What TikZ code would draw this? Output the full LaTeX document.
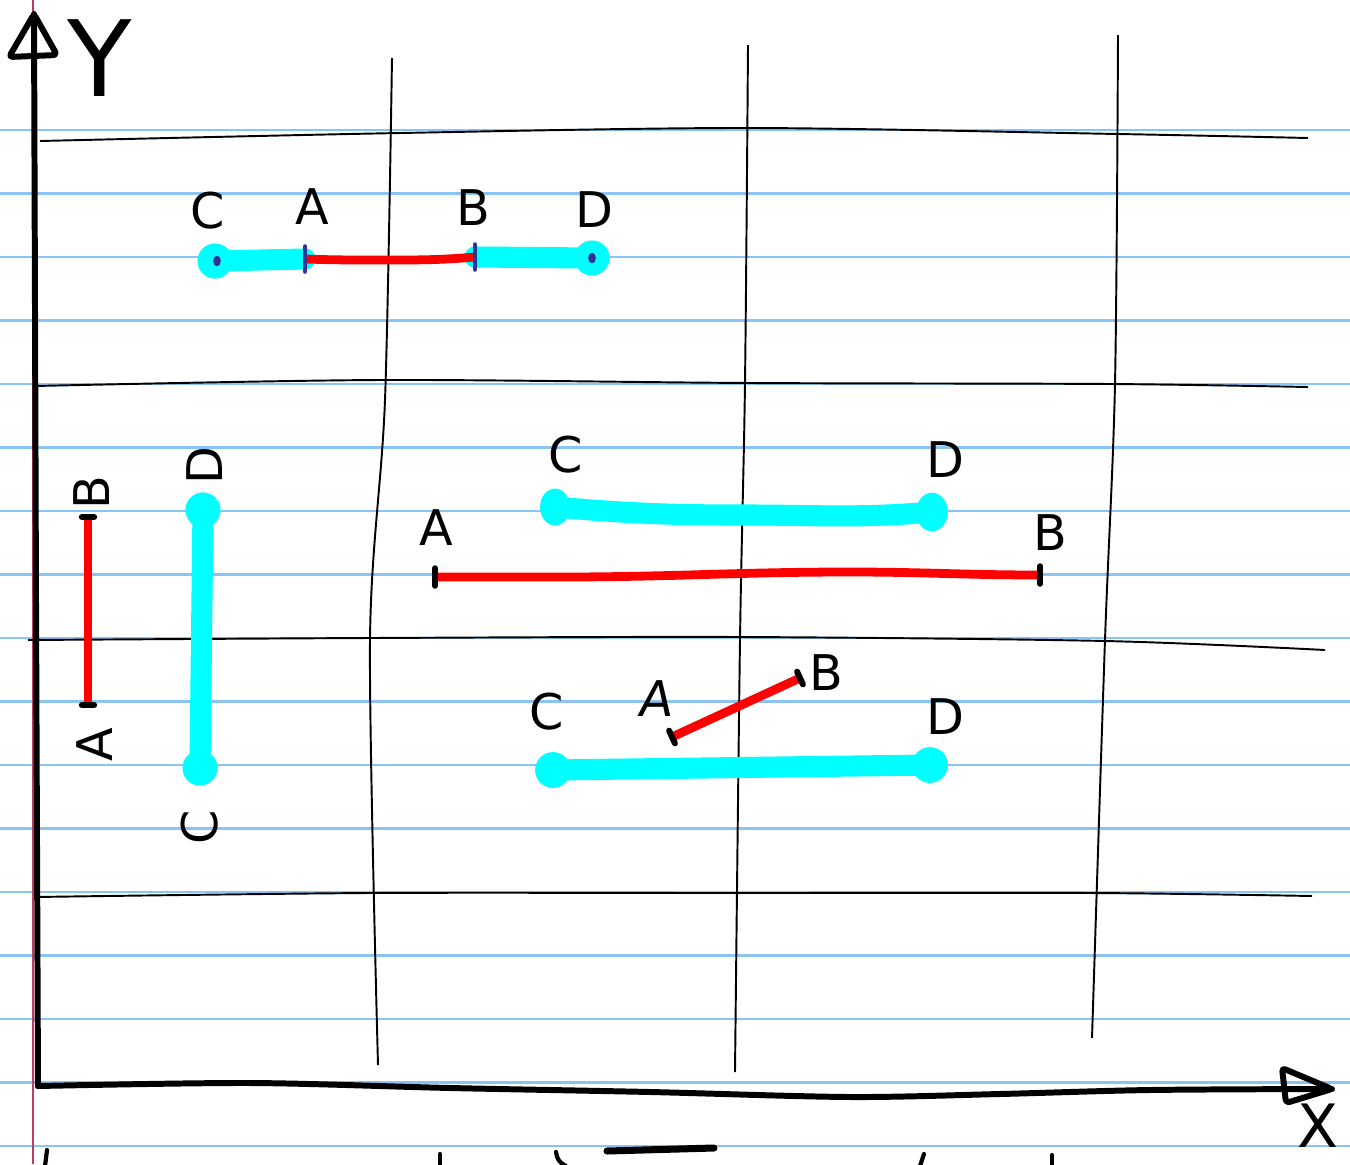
\documentclass[tikz,border=0pt]{standalone}
\usepackage{fontspec}
\setmainfont{DejaVu Sans}
\usetikzlibrary{calc}
\definecolor{ruleblue}{RGB}{140,195,245}
\definecolor{marginred}{RGB}{190,60,100}
\definecolor{cyanseg}{RGB}{0,255,255}
\definecolor{redseg}{RGB}{255,0,0}
\definecolor{tickblue}{RGB}{50,50,150}
\tikzset{
  rule/.style={ruleblue, line width=1.3pt},
  gridline/.style={black, line width=1.1pt},
  axisline/.style={black, line width=3.4pt, line cap=round, line join=round},
  cyanbar/.style={cyanseg, line width=12pt, line cap=round},
  redbar/.style={redseg, line width=5pt},
  endtick/.style={black, line width=3.4pt, line cap=round},
  bluetick/.style={tickblue, line width=2.8pt, line cap=round},
  lbl/.style={font=\fontsize{28}{31}\selectfont, inner sep=0pt},
  rlbl/.style={lbl, rotate=90},
  scrawl/.style={black, line width=2.4pt, line cap=round},
}
\begin{document}
\begin{tikzpicture}[x=0.02cm, y=-0.02cm]
\useasboundingbox (0,0) rectangle (1350,1164);
\fill[white] (0,0) rectangle (1350,1164);
% ruled paper lines
\foreach \k in {0,...,16} {
  \draw[rule] (0,{130+63.5*\k}) -- (1350,{130+63.5*\k});
}
\draw[marginred, line width=0.6pt] (33,0) -- (33,1164);
% hand-drawn grid
\draw[gridline] plot[smooth] coordinates {(40,141) (400,133) (750,128) (1118,134) (1308,138)};
\draw[gridline] plot[smooth] coordinates {(35,386) (380,380) (750,383) (1110,384) (1308,387)};
\draw[gridline] plot[smooth] coordinates {(28,640) (370,638) (740,637) (1105,641) (1325,650)};
\draw[gridline] plot[smooth] coordinates {(35,897) (370,893) (735,893) (1092,893) (1312,896)};
\draw[gridline] plot[smooth] coordinates {(392,58) (385,400) (370,640) (378,1065)};
\draw[gridline] plot[smooth] coordinates {(748,45) (745,383) (740,640) (735,1072)};
\draw[gridline] plot[smooth] coordinates {(1118,35) (1115,384) (1105,640) (1092,1038)};
% axes
\coordinate (origin) at (38,1086);
\coordinate (ytip) at (34,14);
\coordinate (xtip) at (1332,1089);
\draw[axisline] (origin) -- (36,600) -- (ytip);
\draw[axisline] plot[smooth] coordinates {(38,1086) (250,1083) (450,1088) (650,1092) (850,1097) (1000,1094) (1150,1090) (1332,1089)};
\draw[axisline, rounded corners=2pt] (ytip) -- (9,57) -- (57,55) -- cycle;
\draw[axisline, rounded corners=2pt] (xtip) -- (1282,1068) -- (1286,1103) -- cycle;
\node[font=\fontsize{60}{64}\selectfont, inner sep=0pt] (ylabel) at (100,58) {Y};
\node[font=\fontsize{34}{38}\selectfont, inner sep=0pt] (xlabel) at (1318,1126) {X};
% stray marks of the next line
\draw[scrawl] (47,1150) -- (45,1166);
\draw[scrawl] (440,1154) -- (440,1166);
\draw[scrawl] (556,1152) to[bend right=30] (566,1166);
\draw[black, line width=4pt, line cap=round] (607,1151) -- (714,1148);
\draw[scrawl] (924,1154) -- (920,1166);
\draw[scrawl] (1052,1155) -- (1052,1166);

% ---------- top row ----------
\coordinate (tc) at (215,261);
\coordinate (ta) at (305,259);
\coordinate (tb) at (475,257);
\coordinate (td) at (592,258);
\draw[cyanbar] (tc) -- (ta);
\draw[cyanbar] (tb) -- (td);
\fill[cyanseg] (tc) circle[radius=10pt];
\fill[cyanseg] (td) circle[radius=10pt];
\draw[redbar] (ta) to[out=-2,in=180] (380,260) to[out=0,in=185] (tb);
\fill[tickblue] (217,261) circle[x radius=2.2pt, y radius=3pt];
\fill[tickblue] (592,258) circle[x radius=2.2pt, y radius=3pt];
\draw[bluetick] ([yshift=7pt]ta) -- ([yshift=-7pt]ta);
\draw[bluetick] ([yshift=7pt]tb) -- ([yshift=-7pt]tb);
\node[lbl] (tlc) at (208,211) {C};
\node[lbl] (tla) at (312,207) {A};
\node[lbl] (tlb) at (473,208) {B};
\node[lbl] (tld) at (594,210) {D};

% ---------- left vertical ----------
\coordinate (la) at (88,705);
\coordinate (lb) at (88,517);
\coordinate (lc) at (200,768);
\coordinate (ld) at (203,510);
\draw[redbar] (la) -- (lb);
\draw[endtick] ([xshift=-3.5pt]la) -- ([xshift=3.5pt]la);
\draw[endtick] ([xshift=-3.5pt]lb) -- ([xshift=3.5pt]lb);
\draw[cyanbar] (lc) -- (ld);
\fill[cyanseg] (lc) circle[radius=10pt];
\fill[cyanseg] (ld) circle[radius=10pt];
\node[rlbl] (llb) at (92,493) {B};
\node[rlbl] (lla) at (95,745) {A};
\node[rlbl] (lld) at (205,466) {D};
\node[rlbl] (llc) at (200,827) {C};

% ---------- middle row ----------
\coordinate (mc) at (555,507);
\coordinate (md) at (932,512);
\coordinate (ma) at (435,577);
\coordinate (mb) at (1040,575);
\draw[cyanbar] (mc) to[out=-5,in=180] (745,515) to[out=0,in=185] (md);
\fill[cyanseg] (mc) circle[x radius=8.5pt, y radius=10.5pt];
\fill[cyanseg] (md) circle[x radius=9pt, y radius=11pt];
\draw[redbar] (ma) to[out=0,in=180] (560,577) to[out=0,in=180] (850,572) to[out=0,in=180] (mb);
\draw[endtick] ([yshift=5pt]ma) -- ([yshift=-5pt]ma);
\draw[endtick] ([yshift=5pt]mb) -- ([yshift=-5pt]mb);
\node[lbl] (mlc) at (566,455) {C};
\node[lbl] (mld) at (945,460) {D};
\node[lbl] (mla) at (436,528) {A};
\node[lbl] (mlb) at (1050,533) {B};

% ---------- bottom row ----------
\coordinate (bc) at (553,770);
\coordinate (bd) at (930,765);
\coordinate (ba) at (672,737);
\coordinate (bb) at (800,678);
\draw[cyanbar] (bc) -- (bd);
\fill[cyanseg] (bc) circle[radius=10.2pt];
\fill[cyanseg] (bd) circle[radius=10.2pt];
\draw[redbar] (ba) -- (bb);
\draw[endtick] ($(ba)!4pt!90:(bb)$) -- ($(ba)!4pt!-90:(bb)$);
\draw[endtick] ($(bb)!4pt!90:(ba)$) -- ($(bb)!4pt!-90:(ba)$);
\node[lbl] (blc) at (547,712) {C};
\node[lbl, xslant=0.15] (bla) at (657,699) {A};
\node[lbl] (blb) at (826,673) {B};
\node[lbl] (bld) at (945,717) {D};
\end{tikzpicture}
\end{document}
